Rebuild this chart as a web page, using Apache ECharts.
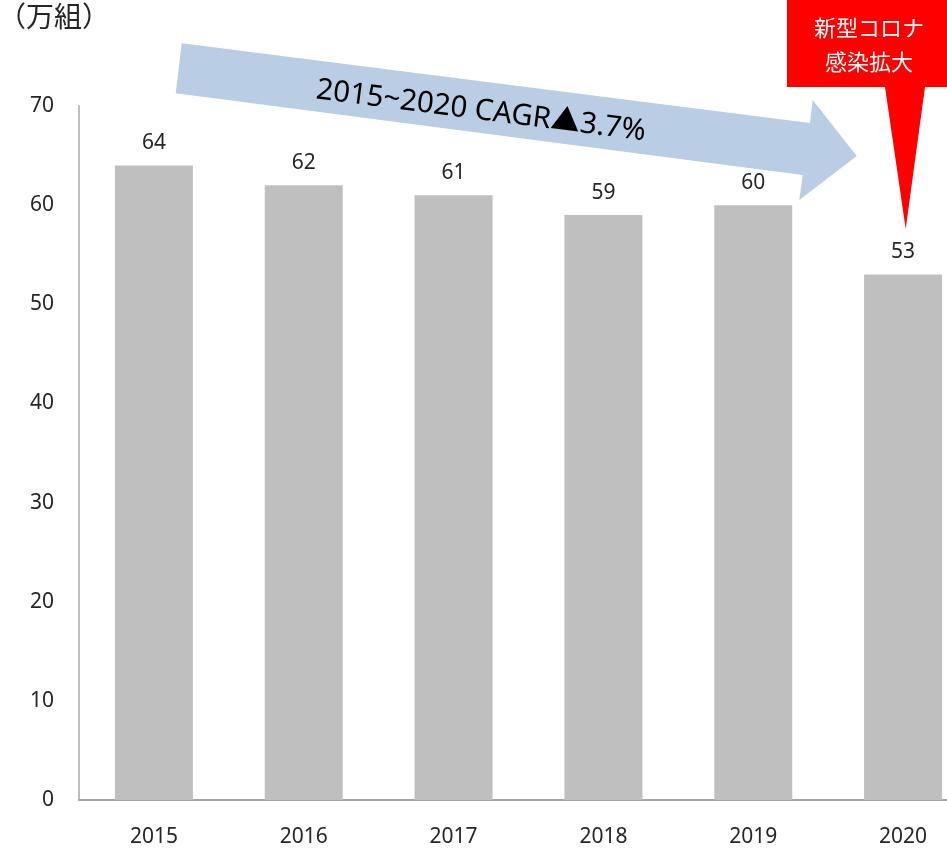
<!DOCTYPE html>
<html>
<head>
<meta charset="utf-8">
<title>組数推移</title>
<script src="https://cdn.jsdelivr.net/npm/echarts@6/dist/echarts.min.js"></script>
<style>
  html, body { margin: 0; padding: 0; background: #ffffff; overflow: hidden; }
  /* the last category band runs past the right edge of the page */
  #chart { width: 978px; height: 848px; }
</style>
</head>
<body>
<div id="chart"></div>
<script>
// 年次カテゴリ
const years = ['2015', '2016', '2017', '2018', '2019', '2020'];
// 組数（万組）
const counts = [64, 62, 61, 59, 60, 53];
// 縦軸の範囲と目盛り
const yMin = 0;
const yMax = 70;
const yStep = 10;
// 注記テキスト
const unitLabel = '（万組）';
const trendLabel = '2015~2020 CAGR▲3.7%';
const eventLabel = '新型コロナ\n感染拡大';

const FONT = "'Noto Sans', 'Noto Sans CJK JP', sans-serif";
const chart = echarts.init(document.getElementById('chart'), null, { renderer: 'canvas' });

const option = {
  animation: false,
  backgroundColor: '#ffffff',
  textStyle: { fontFamily: FONT },
  grid: { left: 79, top: 106, right: 0, bottom: 47.5, containLabel: false },
  xAxis: {
    type: 'category',
    data: years,
    axisLine: { show: true, lineStyle: { color: '#a6a6a6', width: 2 } },
    axisTick: { show: false },
    axisLabel: { color: '#262626', fontSize: 21, fontFamily: FONT, margin: 27 }
  },
  yAxis: {
    type: 'value',
    min: yMin,
    max: yMax,
    interval: yStep,
    axisLine: { show: true, lineStyle: { color: '#bfbfbf', width: 2 } },
    axisTick: { show: false },
    splitLine: { show: false },
    axisLabel: { color: '#262626', fontSize: 21, fontFamily: FONT, margin: 25 }
  },
  series: [{
    type: 'bar',
    data: counts,
    barWidth: 78,
    itemStyle: { color: '#bfbfbf' },
    label: {
      show: true,
      position: 'top',
      distance: 12,
      color: '#262626',
      fontSize: 21,
      fontFamily: FONT,
      formatter: p => String(p.value)
    }
  }],
  graphic: [
    {
      type: 'text',
      left: -2,
      top: 5,
      style: { text: unitLabel, fill: '#262626', font: '28px ' + FONT }
    },
    {
      // 減少傾向を示す矢印
      type: 'polygon',
      shape: {
        points: [[181.7, 43.3], [810, 123], [812.7, 100], [856.7, 156],
                 [799.3, 200], [802.7, 175], [175.7, 93.3]]
      },
      style: { fill: '#b9cde5' },
      z: 10
    },
    {
      type: 'text',
      x: 481,
      y: 111,
      rotation: -0.1274,
      style: {
        text: trendLabel,
        fill: '#000000',
        font: '29.5px ' + FONT,
        align: 'center',
        verticalAlign: 'middle'
      },
      z: 11
    },
    {
      // 吹き出し
      type: 'polygon',
      shape: {
        points: [[787, 0], [978, 0], [978, 87], [925, 87], [905.7, 229],
                 [885, 87], [787, 87]]
      },
      style: { fill: '#ff0000' },
      z: 10
    },
    {
      type: 'text',
      x: 869,
      y: 47,
      style: {
        text: eventLabel,
        fill: '#ffffff',
        font: '22px ' + FONT,
        lineHeight: 34,
        align: 'center',
        verticalAlign: 'middle'
      },
      z: 11
    }
  ]
};

chart.setOption(option);
</script>
</body>
</html>
